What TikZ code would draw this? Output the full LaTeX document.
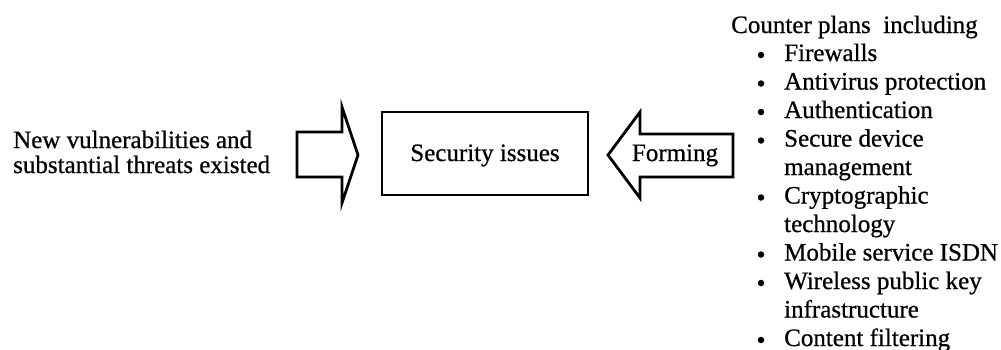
\documentclass[tikz,border=0pt]{standalone}
\usepackage{fontspec}
\setmainfont{Liberation Serif}
\newfontfamily\printfont{Liberation Serif}[FakeBold=0.7]
\begin{document}
\begin{tikzpicture}[x=1pt,y=-1pt,
  txt/.style={font=\printfont\fontsize{25}{28.5}\selectfont, inner sep=0pt, anchor=base west},
  ctxt/.style={font=\printfont\fontsize{25}{28.5}\selectfont, inner sep=0pt, anchor=base},
  bulletdot/.style={circle, fill=black, inner sep=0pt, minimum size=6.5pt},
  outline/.style={draw=black, line width=2.8pt, line join=miter}]
\useasboundingbox (0,0) rectangle (1001,349);

% left description
\node[txt] (in1) at (13,148) {New vulnerabilities and};
\node[txt] (in2) at (13,173) {substantial threats existed};

% hollow arrow pointing right
\coordinate (ra) at (297,132);
\coordinate (rtip) at (358,155);
\draw[outline] (ra) -- (342,132) -- (342,107) -- (rtip) -- (342,203) -- (342,177) -- (297,177) -- cycle;

% central box
\node[outline, minimum width=206pt, minimum height=83pt, inner sep=0pt] (sec) at (485,153.5) {};
\node[ctxt] (seclabel) at (485,161) {Security issues};

% hollow arrow pointing left, carrying the label
\coordinate (ltip) at (608,155);
\draw[outline] (ltip) -- (640,112) -- (640,134) -- (733,134) -- (733,177) -- (640,177) -- (640,198) -- cycle;
\node[ctxt] (forming) at (675,161) {Forming};

% counter plans list
\node[txt] (title) at (731,33) {Counter plans\ \ including};
\foreach \i/\b/\t in {1/1/Firewalls, 2/1/Antivirus protection, 3/1/Authentication,
  4/1/Secure device, 5/0/management, 6/1/Cryptographic, 7/0/technology,
  8/1/Mobile service ISDN, 9/1/Wireless public key, 10/0/infrastructure,
  11/1/Content filtering} {
  \node[txt] (item\i) at (784,{32.5+28.5*\i}) {\t};
  \ifnum\b=1
    \node[bulletdot] (dot\i) at (761,{32.5+28.5*\i-6}) {};
  \fi
}
\end{tikzpicture}
\end{document}
